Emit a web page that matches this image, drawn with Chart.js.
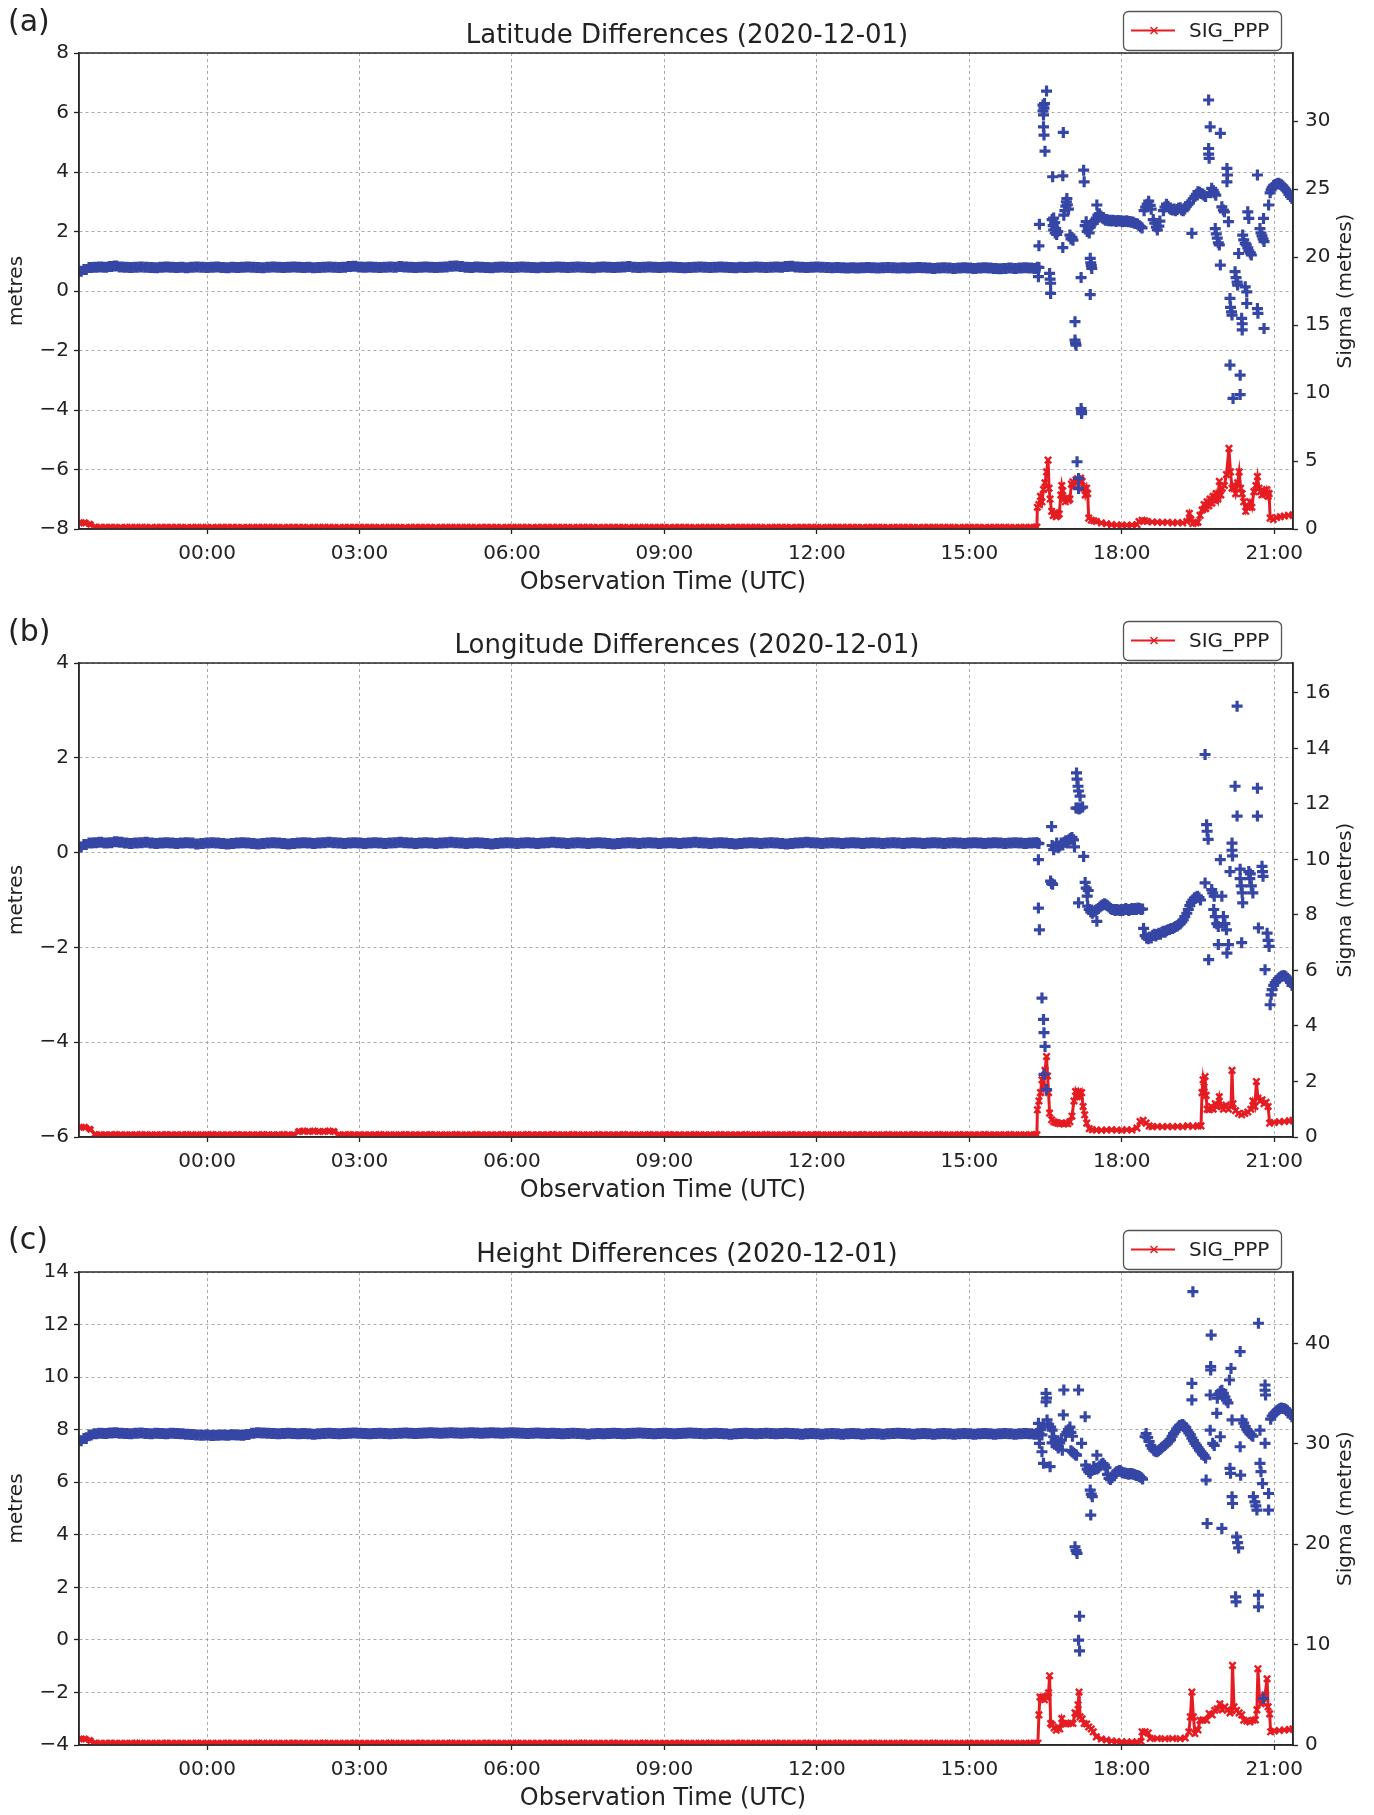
<!DOCTYPE html>
<html><head><meta charset="utf-8">
<script src="https://cdn.jsdelivr.net/npm/chart.js@4.4.1/dist/chart.umd.min.js"></script>
<style>
html,body{margin:0;padding:0;background:#fff;}
#wrap{position:relative;width:1374px;height:1815px;overflow:hidden;background:#fff;}
canvas{position:absolute;left:0;}
.tag{position:absolute;left:8px;font-family:'DejaVu Sans';font-size:30px;line-height:1;color:#222;}
</style></head>
<body><div id="wrap">
<canvas id="ca" width="1374" height="609" style="top:0px"></canvas>
<canvas id="cb" width="1374" height="609" style="top:610px"></canvas>
<canvas id="cc" width="1374" height="596" style="top:1219px"></canvas>
<div class="tag" style="top:6px">(a)</div>
<div class="tag" style="top:616px">(b)</div>
<div class="tag" style="top:1224px">(c)</div>
</div>
<script>
// ---------------- axes / ticks ----------------
const xTickHours = [0,3,6,9,12,15,18,21];
const xTickLabels = ['00:00','03:00','06:00','09:00','12:00','15:00','18:00','21:00'];
const xMin = -2.52, xMax = 21.37;
const flatStart = -2.5, flatStep = 0.1;   // regular epochs of the quiet period

const latTicks = [-8,-6,-4,-2,0,2,4,6,8];
const latSigmaTicks = [0,5,10,15,20,25,30];
const lonTicks = [-6,-4,-2,0,2,4];
const lonSigmaTicks = [0,2,4,6,8,10,12,14,16];
const hgtTicks = [-4,-2,0,2,4,6,8,10,12,14];
const hgtSigmaTicks = [0,10,20,30,40];

// ---------------- (a) latitude ----------------
const latFlat = [
0.66,0.72,0.79,0.80,0.81,0.80,0.82,0.84,0.81,0.80,0.79,0.80,0.81,0.80,0.79,0.78,0.80,0.81,0.80,
0.79,0.80,0.78,0.80,0.81,0.80,0.79,0.80,0.81,0.79,0.78,0.80,0.79,0.80,0.81,0.80,0.79,0.78,0.80,
0.81,0.80,0.79,0.80,0.81,0.80,0.79,0.80,0.78,0.79,0.80,0.81,0.80,0.79,0.80,0.82,0.83,0.81,0.80,
0.81,0.80,0.79,0.80,0.81,0.80,0.82,0.81,0.80,0.79,0.80,0.81,0.80,0.79,0.80,0.81,0.83,0.84,0.82,
0.80,0.79,0.81,0.80,0.79,0.78,0.80,0.81,0.80,0.79,0.80,0.81,0.80,0.79,0.78,0.80,0.79,0.80,0.81,
0.80,0.79,0.80,0.81,0.80,0.79,0.78,0.80,0.81,0.80,0.79,0.80,0.81,0.82,0.80,0.79,0.80,0.81,0.80,
0.79,0.80,0.81,0.80,0.79,0.78,0.79,0.80,0.81,0.80,0.79,0.80,0.81,0.80,0.79,0.78,0.80,0.79,0.80,
0.81,0.80,0.79,0.80,0.81,0.80,0.82,0.83,0.81,0.80,0.79,0.80,0.81,0.80,0.79,0.78,0.79,0.78,0.77,
0.78,0.77,0.78,0.79,0.78,0.77,0.78,0.79,0.78,0.77,0.78,0.77,0.78,0.79,0.78,0.77,0.76,0.77,0.78,
0.77,0.76,0.77,0.78,0.77,0.76,0.77,0.78,0.77,0.76,0.75,0.76,0.77,0.76,0.77,0.78,0.77,0.76];
const latSigFlat = [
0.45,0.45,0.35,0.14,0.12,0.12,0.13,0.12,0.11,0.12,0.12,0.13,0.12,0.12,0.11,0.12,0.12,0.13,0.12,
0.12,0.12,0.11,0.12,0.13,0.12,0.12,0.11,0.12,0.12,0.13,0.12,0.12,0.11,0.12,0.12,0.13,0.12,0.12,
0.12,0.12,0.11,0.12,0.13,0.12,0.12,0.11,0.12,0.12,0.13,0.12,0.12,0.11,0.12,0.12,0.13,0.12,0.12,
0.12,0.12,0.11,0.12,0.13,0.12,0.12,0.11,0.12,0.12,0.13,0.12,0.12,0.11,0.12,0.12,0.13,0.12,0.12,
0.12,0.12,0.11,0.12,0.13,0.12,0.12,0.11,0.12,0.12,0.13,0.12,0.12,0.11,0.12,0.12,0.13,0.12,0.12,
0.12,0.12,0.11,0.12,0.13,0.12,0.12,0.11,0.12,0.12,0.13,0.12,0.12,0.11,0.12,0.12,0.13,0.12,0.12,
0.12,0.12,0.11,0.12,0.13,0.12,0.12,0.11,0.12,0.12,0.13,0.12,0.12,0.11,0.12,0.12,0.13,0.12,0.12,
0.12,0.12,0.11,0.12,0.13,0.12,0.12,0.11,0.12,0.12,0.13,0.12,0.12,0.11,0.12,0.12,0.13,0.12,0.12,
0.12,0.12,0.11,0.12,0.13,0.12,0.12,0.11,0.12,0.12,0.13,0.12,0.12,0.11,0.12,0.12,0.13,0.12,0.12,
0.12,0.12,0.11,0.12,0.13,0.12,0.12,0.11,0.12,0.12,0.13,0.12,0.12,0.11,0.12,0.12,0.13,0.12];
const latScatter = [
[16.34,0.80],[16.37,0.79],[16.36,0.48],[16.37,1.52],[16.38,2.24],
[16.45,6.25],[16.45,6.05],[16.46,5.92],[16.47,6.15],[16.48,6.30],[16.52,6.72],[16.46,5.52],[16.47,5.24],[16.49,4.70],
[16.58,0.59],[16.60,0.26],[16.60,-0.08],[16.59,0.40],
[16.64,3.84],[16.84,3.87],[16.85,5.33],
[16.63,2.40],[16.65,2.20],[16.66,2.05],[16.68,2.30],[16.69,1.95],[16.70,2.10],[16.72,1.90],[16.74,2.00],[16.66,2.45],
[16.84,1.46],
[16.86,2.55],[16.88,2.70],[16.90,2.85],[16.91,3.00],[16.92,3.11],[16.93,2.90],[16.95,2.75],
[16.98,1.88],[17.00,1.75],[17.02,1.80],[17.04,1.71],
[17.08,-1.03],[17.08,-1.65],[17.09,-1.75],[17.10,-1.82],
[17.12,-5.74],[17.15,-6.30],[17.15,-6.64],
[17.20,0.45],[17.20,-3.95],[17.21,-4.05],[17.21,-4.12],
[17.25,4.06],[17.26,3.67],
[17.28,2.20],[17.30,2.33],[17.32,2.00],[17.34,2.10],[17.36,1.95],[17.38,2.15],[17.40,2.25],
[17.38,1.10],[17.39,0.95],[17.40,0.85],[17.41,0.76],[17.38,-0.12],
[17.51,2.89],
[17.44,2.27],[17.47,2.35],[17.50,2.45],[17.53,2.55],[17.56,2.60],[17.59,2.52],[17.62,2.45],[17.65,2.42],[17.68,2.38],[17.71,2.40],[17.74,2.36],[17.77,2.38],[17.80,2.35],[17.83,2.38],[17.86,2.36],[17.89,2.34],[17.92,2.37],[17.95,2.35],[17.98,2.36],[18.01,2.33],[18.04,2.35],[18.07,2.34],[18.10,2.36],[18.13,2.33],[18.16,2.34],[18.19,2.31],[18.22,2.32],[18.25,2.28],[18.28,2.27],[18.31,2.25],[18.34,2.20],[18.37,2.16],[18.40,2.12],
[18.44,2.70],[18.47,2.82],[18.50,2.92],[18.53,3.02],[18.56,2.88],[18.58,2.75],
[18.62,2.40],[18.65,2.28],[18.68,2.15],[18.70,2.05],[18.73,2.18],[18.75,2.35],
[18.82,2.70],[18.85,2.82],[18.88,2.92],[18.91,2.85],[18.94,2.78],[18.97,2.74],[19.00,2.72],[19.03,2.76],[19.06,2.70],[19.09,2.74],[19.12,2.78],[19.15,2.80],[19.18,2.72],[19.21,2.70],[19.24,2.76],[19.27,2.84],[19.30,2.90],[19.33,2.96],
[19.38,1.94],
[19.41,3.10],[19.44,3.18],[19.47,3.25],[19.50,3.34],[19.53,3.32],[19.56,3.28],[19.59,3.26],[19.62,3.22],[19.65,3.18],
[19.71,6.42],[19.74,5.52],[19.71,4.79],[19.71,4.60],[19.72,4.46],
[19.75,3.30],[19.77,3.45],[19.80,3.38],[19.82,3.30],[19.85,3.22],
[19.94,5.30],[19.97,2.83],[20.00,2.72],[20.02,2.66],
[20.07,4.12],[20.08,3.90],[20.07,3.67],
[19.84,2.10],[19.86,1.92],[19.88,1.78],[19.90,1.62],[19.92,1.55],
[19.94,0.87],[20.10,2.33],
[20.13,-0.25],[20.14,-0.55],[20.16,-0.70],[20.17,-0.81],
[20.13,-2.49],[20.19,-3.61],
[20.23,0.65],[20.25,0.45],[20.27,0.30],[20.28,0.20],
[20.30,1.26],
[20.33,-2.83],[20.33,-3.48],
[20.36,-0.92],[20.37,-1.10],[20.37,-1.31],
[20.43,0.14],[20.46,-0.03],[20.46,-0.42],
[20.38,1.88],[20.40,1.72],[20.43,1.60],[20.45,1.55],[20.48,1.45],[20.50,1.35],[20.53,1.28],[20.55,1.21],
[20.48,2.66],[20.50,2.44],
[20.67,3.90],[20.67,-0.59],[20.68,-0.75],
[20.72,2.10],[20.74,1.95],[20.76,1.85],[20.78,1.75],[20.80,1.66],
[20.79,2.44],[20.80,-1.26],[20.89,2.89],
[20.92,3.30],[20.94,3.40],[20.96,3.48],[20.99,3.55],[21.02,3.58],[21.05,3.60],[21.08,3.62],[21.11,3.60],[21.14,3.57],[21.17,3.53],[21.20,3.46],[21.23,3.40],[21.26,3.34],[21.29,3.25],[21.32,3.18],[21.35,3.11]];
const latSigma = [
[16.33,0.15],[16.34,1.60],[16.37,1.80],[16.40,2.40],[16.43,2.00],[16.46,2.90],[16.49,3.40],[16.52,4.20],[16.55,5.07],[16.57,3.00],[16.59,2.20],[16.62,1.30],[16.65,1.00],[16.68,1.20],[16.71,0.90],[16.74,1.00],[16.77,1.10],[16.80,2.50],[16.82,3.20],[16.84,2.80],[16.86,2.20],[16.89,2.00],[16.92,2.30],[16.95,2.10],[16.98,2.20],[17.01,3.30],[17.04,3.48],[17.07,3.20],[17.10,3.60],[17.13,3.70],[17.16,3.55],[17.19,3.75],[17.22,3.50],[17.25,3.00],[17.28,2.50],[17.31,3.00],[17.33,2.60],[17.35,0.80],[17.40,0.65],[17.45,0.60],[17.50,0.55],[17.60,0.45],[17.70,0.38],[17.80,0.32],[17.90,0.30],[18.00,0.29],[18.10,0.28],[18.20,0.30],[18.30,0.32],[18.34,0.55],[18.40,0.65],[18.45,0.60],[18.50,0.55],[18.60,0.52],[18.70,0.50],[18.80,0.48],[18.90,0.50],[19.00,0.45],[19.10,0.48],[19.20,0.45],[19.28,0.55],[19.33,1.15],[19.36,0.70],[19.40,0.40],[19.46,0.45],
[19.50,0.50],[19.54,1.00],[19.58,1.40],[19.62,1.80],[19.65,1.50],[19.68,2.00],[19.71,1.70],[19.74,2.20],[19.77,1.90],[19.80,2.40],[19.83,2.10],[19.86,2.60],[19.89,2.20],[19.92,3.50],[19.95,2.50],[19.98,3.00],[20.02,3.20],[20.06,4.00],[20.11,5.93],[20.14,4.20],[20.17,3.00],[20.20,3.20],[20.24,2.60],[20.28,3.40],[20.31,4.20],[20.34,3.00],[20.37,2.60],[20.40,2.00],[20.44,1.30],[20.48,1.60],[20.52,2.00],[20.56,1.60],[20.60,2.75],[20.64,3.20],[20.67,3.85],[20.70,3.00],[20.73,2.75],[20.76,2.50],[20.79,2.80],[20.82,2.60],[20.85,2.90],[20.88,2.40],[20.90,2.60],[20.92,0.80],[20.98,0.70],[21.05,0.85],[21.12,0.90],[21.20,0.95],[21.28,1.00],[21.37,1.05]];

// ---------------- (b) longitude ----------------
const lonFlat = [
0.12,0.17,0.20,0.21,0.22,0.20,0.21,0.23,0.22,0.20,0.19,0.20,0.21,0.22,0.20,0.19,0.20,0.21,0.20,
0.19,0.20,0.21,0.20,0.18,0.19,0.20,0.21,0.20,0.19,0.18,0.19,0.20,0.21,0.20,0.19,0.18,0.19,0.20,
0.21,0.20,0.19,0.18,0.19,0.20,0.21,0.20,0.19,0.20,0.21,0.22,0.21,0.20,0.19,0.20,0.21,0.20,0.19,
0.20,0.21,0.20,0.19,0.20,0.21,0.22,0.21,0.20,0.19,0.20,0.21,0.20,0.19,0.20,0.21,0.22,0.21,0.20,
0.19,0.20,0.21,0.20,0.19,0.18,0.19,0.20,0.21,0.20,0.19,0.20,0.21,0.20,0.19,0.20,0.21,0.22,0.21,
0.20,0.19,0.20,0.21,0.20,0.19,0.20,0.21,0.20,0.19,0.18,0.19,0.20,0.21,0.20,0.19,0.20,0.21,0.20,
0.19,0.20,0.21,0.20,0.19,0.20,0.21,0.22,0.21,0.20,0.19,0.20,0.21,0.20,0.19,0.18,0.19,0.20,0.21,
0.20,0.19,0.20,0.21,0.20,0.19,0.18,0.19,0.20,0.21,0.22,0.21,0.20,0.19,0.20,0.21,0.20,0.19,0.20,
0.21,0.20,0.19,0.20,0.21,0.20,0.19,0.20,0.21,0.20,0.19,0.20,0.21,0.20,0.19,0.20,0.21,0.20,0.19,
0.20,0.21,0.20,0.19,0.20,0.21,0.20,0.19,0.20,0.21,0.20,0.19,0.20,0.21,0.20,0.19,0.20,0.21];
const lonSigFlat = [
0.35,0.35,0.28,0.09,0.08,0.08,0.08,0.09,0.08,0.08,0.08,0.08,0.09,0.08,0.08,0.08,0.08,0.09,0.08,
0.08,0.08,0.09,0.08,0.08,0.08,0.08,0.09,0.08,0.08,0.08,0.08,0.09,0.08,0.08,0.08,0.08,0.09,0.08,
0.08,0.08,0.09,0.08,0.08,0.20,0.21,0.20,0.21,0.20,0.20,0.21,0.20,0.08,0.08,0.09,0.08,0.08,0.08,
0.08,0.08,0.09,0.08,0.08,0.08,0.08,0.09,0.08,0.08,0.08,0.08,0.09,0.08,0.08,0.08,0.08,0.09,0.08,
0.08,0.08,0.09,0.08,0.08,0.08,0.08,0.09,0.08,0.08,0.08,0.08,0.09,0.08,0.08,0.08,0.08,0.09,0.08,
0.08,0.08,0.09,0.08,0.08,0.08,0.08,0.09,0.08,0.08,0.08,0.08,0.09,0.08,0.08,0.08,0.08,0.09,0.08,
0.08,0.08,0.09,0.08,0.08,0.08,0.08,0.09,0.08,0.08,0.08,0.08,0.09,0.08,0.08,0.08,0.08,0.09,0.08,
0.08,0.08,0.09,0.08,0.08,0.08,0.08,0.09,0.08,0.08,0.08,0.08,0.09,0.08,0.08,0.08,0.08,0.09,0.08,
0.08,0.08,0.09,0.08,0.08,0.08,0.08,0.09,0.08,0.08,0.08,0.08,0.09,0.08,0.08,0.08,0.08,0.09,0.08,
0.08,0.08,0.09,0.08,0.08,0.08,0.08,0.09,0.08,0.08,0.08,0.08,0.09,0.08,0.08,0.08,0.08,0.09];
const lonScatter = [
[16.34,0.20],[16.37,0.19],[16.36,-0.15],[16.36,-1.17],[16.38,-1.63],
[16.43,-3.07],[16.46,-3.52],[16.47,-3.80],[16.49,-4.09],[16.47,-4.68],[16.52,-5.00],
[16.62,0.55],[16.60,-0.60],[16.62,-0.65],[16.64,-0.67],
[16.63,0.15],[16.66,0.06],[16.69,0.12],[16.72,0.20],[16.75,0.10],[16.78,0.14],[16.81,0.20],[16.84,0.16],[16.87,0.22],[16.90,0.25],[16.93,0.20],[16.96,0.27],[16.99,0.30],[17.02,0.32],[17.05,0.27],[17.07,0.12],
[17.11,1.68],[17.12,1.55],[17.14,1.40],[17.15,1.30],[17.18,1.19],[17.10,0.94],[17.13,0.94],[17.16,0.92],[17.19,0.94],[17.23,0.96],
[17.15,-1.06],[17.25,-0.08],
[17.28,-0.63],[17.30,-0.75],[17.32,-0.92],[17.34,-0.80],
[17.33,-1.13],[17.36,-1.20],[17.39,-1.25],[17.42,-1.28],[17.45,-1.25],[17.48,-1.22],[17.51,-1.20],[17.54,-1.18],[17.57,-1.15],[17.60,-1.12],[17.63,-1.10],[17.66,-1.08],[17.69,-1.10],[17.72,-1.12],[17.75,-1.15],[17.78,-1.18],[17.81,-1.20],[17.84,-1.20],[17.87,-1.22],[17.90,-1.20],[17.93,-1.21],[17.96,-1.22],[17.99,-1.20],[18.02,-1.22],[18.05,-1.20],[18.08,-1.18],[18.11,-1.20],[18.14,-1.22],[18.17,-1.20],[18.20,-1.18],[18.23,-1.20],[18.26,-1.18],[18.29,-1.20],[18.32,-1.17],[18.35,-1.18],[18.38,-1.20],[18.41,-1.19],
[17.51,-1.45],
[18.43,-1.60],[18.46,-1.75],[18.49,-1.80],[18.52,-1.82],[18.55,-1.78],[18.58,-1.80],[18.61,-1.75],[18.64,-1.72],[18.67,-1.76],[18.70,-1.73],[18.73,-1.70],[18.76,-1.72],[18.79,-1.68],[18.82,-1.66],[18.85,-1.68],[18.88,-1.65],[18.91,-1.63],[18.94,-1.62],[18.97,-1.60],[19.00,-1.60],[19.03,-1.58],[19.06,-1.56],[19.09,-1.55],[19.12,-1.52],[19.15,-1.50],[19.18,-1.46],[19.21,-1.42],[19.24,-1.35],
[19.28,-1.28],[19.31,-1.20],[19.34,-1.12],[19.37,-1.05],[19.40,-1.00],[19.43,-0.96],[19.46,-0.94],[19.49,-0.92],[19.52,-0.95],[19.55,-1.00],
[19.64,2.07],[19.64,-0.64],
[19.67,0.59],[19.68,0.45],[19.70,0.28],[19.71,-2.26],
[19.77,-0.78],[19.79,-0.85],[19.82,-0.92],
[19.81,-1.20],[19.84,-1.35],[19.87,-1.50],[19.90,-1.56],[19.90,-1.94],
[19.94,-0.15],[19.97,-0.92],
[20.00,-1.35],[20.03,-1.50],[20.06,-1.63],[20.07,-2.12],[20.10,-1.94],
[20.13,-0.40],[20.17,0.20],[20.17,0.05],[20.18,-0.07],
[20.23,1.40],[20.27,0.77],[20.27,3.09],
[20.33,-0.35],[20.33,-0.55],[20.35,-0.70],[20.37,-0.85],[20.38,-1.06],[20.36,-1.90],
[20.50,-0.40],[20.52,-0.55],[20.55,-0.70],[20.58,-0.85],[20.53,-0.45],
[20.67,1.36],[20.67,0.77],[20.69,-1.59],
[20.76,-0.29],[20.77,-0.40],[20.78,-0.50],
[20.82,-2.47],[20.86,-1.70],[20.88,-1.85],[20.90,-1.98],
[20.92,-3.21],[20.94,-3.00],[20.96,-2.89],[20.99,-2.80],[21.02,-2.74],[21.05,-2.70],[21.08,-2.66],[21.11,-2.63],[21.14,-2.61],[21.17,-2.60],[21.20,-2.60],[21.23,-2.62],[21.26,-2.65],[21.29,-2.68],[21.32,-2.74],[21.35,-2.80]];
const lonSigma = [
[16.33,0.08],[16.34,0.98],[16.37,1.30],[16.40,1.60],[16.43,2.06],[16.46,1.80],[16.49,2.40],[16.52,2.90],[16.54,2.20],[16.56,1.60],[16.58,0.86],[16.62,0.62],[16.66,0.55],[16.70,0.52],[16.74,0.50],[16.78,0.48],[16.82,0.50],[16.86,0.47],[16.90,0.50],[16.94,0.48],[16.98,0.55],[17.02,0.75],[17.06,1.30],[17.09,1.64],[17.12,1.45],[17.15,1.64],[17.18,1.46],[17.21,1.60],[17.24,1.10],[17.27,0.80],[17.31,0.50],[17.36,0.30],[17.42,0.26],[17.50,0.25],[17.60,0.24],[17.70,0.25],[17.80,0.26],[17.90,0.25],[18.00,0.24],[18.10,0.26],[18.20,0.25],[18.30,0.32],[18.36,0.56],[18.42,0.60],[18.48,0.50],[18.54,0.40],[18.60,0.37],[18.70,0.38],[18.80,0.37],[18.90,0.38],[19.00,0.37],[19.10,0.38],[19.20,0.37],[19.30,0.40],[19.40,0.38],[19.50,0.40],[19.56,0.40],[19.58,1.60],[19.60,2.06],[19.62,1.80],[19.64,2.18],[19.66,1.50],[19.68,1.00],[19.72,0.98],[19.76,1.10],[19.80,1.00],[19.84,1.20],[19.88,1.10],[19.92,1.45],[19.96,1.10],[20.00,1.00],[20.05,1.15],[20.10,1.00],[20.15,1.10],[20.17,2.40],[20.19,1.20],[20.24,0.95],[20.30,0.85],[20.36,0.80],[20.42,0.85],[20.48,0.90],[20.54,1.00],[20.58,1.30],[20.62,1.10],[20.65,2.00],[20.68,1.40],[20.72,1.30],[20.76,1.34],[20.80,1.20],[20.84,1.25],[20.88,1.10],[20.91,0.50],[21.00,0.52],[21.10,0.55],[21.20,0.56],[21.30,0.58],[21.37,0.60]];

// ---------------- (c) height ----------------
const hgtFlat = [
7.58,7.66,7.80,7.84,7.86,7.85,7.87,7.88,7.86,7.85,7.84,7.86,7.87,7.85,7.84,7.86,7.85,7.84,7.86,
7.85,7.84,7.83,7.82,7.80,7.79,7.80,7.78,7.79,7.80,7.79,7.81,7.80,7.79,7.82,7.86,7.88,7.87,7.86,
7.85,7.84,7.85,7.86,7.85,7.84,7.85,7.84,7.83,7.84,7.85,7.86,7.85,7.84,7.85,7.86,7.87,7.86,7.85,
7.84,7.85,7.86,7.85,7.84,7.85,7.86,7.87,7.86,7.85,7.86,7.87,7.88,7.87,7.86,7.87,7.88,7.87,7.86,
7.87,7.88,7.87,7.86,7.87,7.88,7.87,7.86,7.87,7.88,7.87,7.86,7.85,7.86,7.87,7.86,7.85,7.86,7.85,
7.84,7.85,7.86,7.85,7.84,7.83,7.84,7.85,7.84,7.85,7.86,7.85,7.84,7.85,7.86,7.87,7.86,7.85,7.84,
7.85,7.86,7.85,7.84,7.85,7.86,7.87,7.86,7.85,7.84,7.85,7.86,7.85,7.84,7.83,7.84,7.85,7.86,7.85,
7.84,7.85,7.86,7.85,7.84,7.85,7.86,7.85,7.84,7.83,7.84,7.85,7.84,7.83,7.84,7.85,7.84,7.83,7.84,
7.85,7.84,7.83,7.84,7.85,7.84,7.83,7.84,7.85,7.86,7.85,7.84,7.83,7.84,7.85,7.84,7.83,7.84,7.85,
7.84,7.83,7.84,7.85,7.84,7.83,7.84,7.85,7.84,7.83,7.84,7.85,7.84,7.83,7.84,7.85,7.84,7.83];
const hgtSigFlat = [
0.60,0.60,0.45,0.20,0.18,0.18,0.19,0.18,0.17,0.18,0.18,0.19,0.18,0.18,0.17,0.18,0.18,0.19,0.18,
0.18,0.18,0.17,0.18,0.19,0.18,0.18,0.17,0.18,0.18,0.19,0.18,0.18,0.17,0.18,0.18,0.19,0.18,0.18,
0.18,0.18,0.17,0.18,0.19,0.18,0.18,0.17,0.18,0.18,0.19,0.18,0.18,0.17,0.18,0.18,0.19,0.18,0.18,
0.18,0.18,0.17,0.18,0.19,0.18,0.18,0.17,0.18,0.18,0.19,0.18,0.18,0.17,0.18,0.18,0.19,0.18,0.18,
0.18,0.18,0.17,0.18,0.19,0.18,0.18,0.17,0.18,0.18,0.19,0.18,0.18,0.17,0.18,0.18,0.19,0.18,0.18,
0.18,0.18,0.17,0.18,0.19,0.18,0.18,0.17,0.18,0.18,0.19,0.18,0.18,0.17,0.18,0.18,0.19,0.18,0.18,
0.18,0.18,0.17,0.18,0.19,0.18,0.18,0.17,0.18,0.18,0.19,0.18,0.18,0.17,0.18,0.18,0.19,0.18,0.18,
0.18,0.18,0.17,0.18,0.19,0.18,0.18,0.17,0.18,0.18,0.19,0.18,0.18,0.17,0.18,0.18,0.19,0.18,0.18,
0.18,0.18,0.17,0.18,0.19,0.18,0.18,0.17,0.18,0.18,0.19,0.18,0.18,0.17,0.18,0.18,0.19,0.18,0.18,
0.18,0.18,0.17,0.18,0.19,0.18,0.18,0.17,0.18,0.18,0.19,0.18,0.18,0.17,0.18,0.18,0.19,0.18];
const hgtScatter = [
[16.34,7.86],[16.37,7.85],
[16.36,8.24],[16.40,8.00],[16.43,7.80],[16.46,8.20],[16.38,7.48],[16.43,7.16],[16.46,6.72],[16.59,6.59],
[16.51,9.38],[16.52,9.20],[16.51,9.06],
[16.53,8.37],[16.56,8.20],[16.60,8.10],[16.63,7.98],
[16.63,7.50],[16.66,7.73],[16.69,7.60],[16.72,7.40],[16.75,7.30],[16.78,7.50],[16.81,7.60],[16.83,7.22],
[16.86,9.51],[16.85,8.56],
[16.89,7.80],[16.92,7.90],[16.95,8.00],[16.98,8.10],[17.00,7.90],[17.03,7.75],
[17.00,7.20],[17.03,7.15],[17.06,7.10],[17.09,7.05],[17.11,7.03],
[17.15,9.51],
[17.08,3.54],[17.10,3.40],[17.12,3.29],
[17.17,0.90],[17.15,-0.01],[17.17,-0.42],
[17.21,7.48],[17.28,8.49],
[17.29,6.65],[17.32,6.50],[17.35,6.40],[17.38,6.34],[17.41,6.45],
[17.38,5.70],[17.40,5.55],[17.42,5.45],[17.39,4.75],
[17.51,7.03],
[17.45,6.60],[17.48,6.52],[17.51,6.50],[17.54,6.55],[17.57,6.62],[17.60,6.68],[17.63,6.72],[17.66,6.65],[17.69,6.55],
[17.72,6.30],[17.75,6.15],[17.78,6.10],[17.81,6.18],[17.84,6.28],[17.87,6.35],[17.90,6.40],[17.93,6.42],[17.96,6.45],[17.99,6.40],[18.02,6.36],[18.05,6.35],[18.08,6.34],[18.11,6.32],[18.14,6.30],[18.17,6.33],[18.20,6.32],[18.23,6.30],[18.26,6.28],[18.29,6.26],[18.32,6.25],[18.35,6.22],[18.38,6.18],[18.41,6.12],
[18.46,7.73],[18.48,7.85],[18.51,7.70],[18.54,7.55],[18.57,7.40],[18.60,7.30],
[18.63,7.22],[18.66,7.18],[18.69,7.16],[18.72,7.20],[18.75,7.25],[18.78,7.30],[18.81,7.35],[18.84,7.40],[18.87,7.45],[18.90,7.50],[18.93,7.56],[18.96,7.62],
[18.99,7.75],[19.02,7.85],[19.05,7.92],[19.08,8.02],[19.11,8.10],[19.14,8.16],[19.17,8.18],[19.20,8.20],[19.23,8.14],[19.26,8.08],
[19.29,7.96],[19.32,7.88],[19.35,7.80],[19.38,7.68],[19.41,7.58],[19.44,7.48],[19.47,7.40],[19.50,7.32],[19.53,7.22],[19.56,7.15],[19.59,7.08],[19.62,7.02],[19.65,6.92],
[19.40,13.25],[19.38,9.76],[19.38,9.13],
[19.66,6.08],[19.68,4.43],
[19.76,11.60],[19.75,10.40],[19.75,10.27],[19.74,9.32],[19.74,7.98],[19.79,7.48],[19.82,7.40],
[19.87,8.62],
[19.88,9.20],[19.91,9.35],[19.94,9.45],[19.97,9.50],[20.00,9.38],[20.03,9.25],[20.06,9.12],[20.09,9.02],
[19.94,7.73],[19.97,4.24],
[20.12,9.89],[20.15,10.33],
[20.13,6.53],[20.14,6.34],[20.17,8.37],[20.17,5.45],[20.18,5.19],
[20.26,3.92],[20.28,3.70],[20.30,3.50],[20.24,1.64],[20.25,1.45],
[20.33,10.97],[20.33,7.35],[20.34,6.27],
[20.37,8.37],[20.40,8.25],[20.43,8.12],[20.46,8.00],[20.49,7.92],[20.52,7.85],[20.55,7.80],[20.58,7.75],
[20.59,5.45],[20.62,5.25],[20.64,5.10],[20.66,4.94],
[20.69,12.05],[20.69,1.70],[20.69,1.26],
[20.72,7.98],[20.72,6.72],[20.74,6.40],[20.77,5.95],
[20.82,9.70],[20.82,9.50],[20.83,9.32],[20.82,7.48],
[20.89,5.57],[20.89,4.94],[20.79,-2.23],
[20.93,8.40],[20.96,8.52],[20.99,8.60],[21.02,8.66],[21.05,8.72],[21.08,8.76],[21.11,8.80],[21.14,8.82],[21.17,8.81],[21.20,8.80],[21.23,8.77],[21.26,8.72],[21.29,8.66],[21.32,8.58],[21.35,8.49]];
const hgtSigma = [
[16.35,0.18],[16.37,3.00],[16.39,4.78],[16.42,4.60],[16.45,4.78],[16.48,4.50],[16.51,4.78],[16.54,4.90],[16.56,5.20],[16.58,6.90],[16.60,2.14],[16.63,2.00],[16.67,1.70],[16.71,1.47],[16.75,1.80],[16.78,1.60],[16.82,2.63],[16.85,2.14],[16.90,2.10],[16.95,2.14],[17.00,2.20],[17.04,2.14],[17.08,3.20],[17.11,3.00],[17.14,4.00],[17.16,5.28],[17.18,2.80],[17.22,2.60],[17.26,2.14],[17.31,2.10],[17.35,1.80],[17.40,1.60],[17.44,1.31],[17.50,0.81],[17.60,0.60],[17.70,0.50],[17.80,0.40],[17.90,0.35],[18.00,0.31],[18.10,0.30],[18.20,0.30],[18.30,0.31],[18.38,0.35],[18.40,1.31],[18.46,1.31],[18.52,1.20],[18.56,0.65],[18.70,0.65],[18.85,0.63],[19.00,0.65],[19.15,0.63],[19.25,0.70],[19.32,1.30],[19.35,2.80],[19.38,5.28],[19.41,2.80],[19.44,1.14],[19.50,1.50],[19.54,2.47],[19.60,2.50],[19.67,2.47],[19.72,3.13],[19.78,3.00],[19.83,3.46],[19.88,3.60],[19.93,4.10],[19.98,3.50],[20.03,3.80],[20.08,3.50],[20.13,3.20],[20.16,3.40],[20.18,7.93],[20.21,3.80],[20.26,3.46],[20.31,3.20],[20.36,3.00],[20.40,2.47],[20.46,2.40],[20.52,2.30],[20.58,2.47],[20.63,2.50],[20.66,3.50],[20.68,7.60],[20.71,4.78],[20.74,4.10],[20.78,4.20],[20.82,5.00],[20.86,6.60],[20.88,3.80],[20.91,3.10],[20.93,1.31],[21.00,1.40],[21.10,1.45],[21.20,1.50],[21.30,1.55],[21.37,1.60]];

// ---------------- drawing ----------------
const F = 'DejaVu Sans';
const BLUE = '#3546a5';
const RED = '#e51c22';
const GRID = 'rgba(150,150,150,0.8)';
const INK = '#222222';

const panels = [
  {id:'ca', title:'Latitude Differences (2020-12-01)', plotH:476, yMin:-8, yMax:8, yTicks:latTicks, sMax:35, sTicks:latSigmaTicks, flat:latFlat, sigFlat:latSigFlat, scatter:latScatter, sigma:latSigma},
  {id:'cb', title:'Longitude Differences (2020-12-01)', plotH:474, yMin:-6, yMax:4, yTicks:lonTicks, sMax:17.08, sTicks:lonSigmaTicks, flat:lonFlat, sigFlat:lonSigFlat, scatter:lonScatter, sigma:lonSigma},
  {id:'cc', title:'Height Differences (2020-12-01)', plotH:473, yMin:-4, yMax:14, yTicks:hgtTicks, sMax:47.1, sTicks:hgtSigmaTicks, flat:hgtFlat, sigFlat:hgtSigFlat, scatter:hgtScatter, sigma:hgtSigma}
];

const fmt = v => (v < 0 ? '\u2212' + Math.abs(v) : String(v));

const decor = {
  id: 'decor',
  afterDraw(chart, args, o) {
    const ctx = chart.ctx, a = chart.chartArea;
    ctx.save();
    ctx.strokeStyle = '#2a2a2a'; ctx.lineWidth = 1.5;
    ctx.strokeRect(a.left, a.top, a.right - a.left, a.bottom - a.top);
    ctx.fillStyle = INK; ctx.textAlign = 'center'; ctx.textBaseline = 'middle';
    ctx.font = '24px "' + F + '"';
    ctx.fillText(o.xLabel, o.xLabelX, a.bottom + o.xLabelDy);
    ctx.save();
    ctx.translate(o.rightX, (a.top + a.bottom) / 2);
    ctx.rotate(-Math.PI / 2);
    ctx.font = '20px "' + F + '"';
    ctx.fillText(o.rightLabel, 0, 0);
    ctx.restore();
    // legend
    const ds = chart.data.datasets[1];
    const x0 = 1123, x1 = 1281, y0 = a.top - 42, y1 = a.top - 3;
    ctx.beginPath();
    if (ctx.roundRect) ctx.roundRect(x0 + 0.5, y0 + 0.5, x1 - x0, y1 - y0, 5); else ctx.rect(x0 + 0.5, y0 + 0.5, x1 - x0, y1 - y0);
    ctx.fillStyle = '#fff'; ctx.fill();
    ctx.strokeStyle = '#555'; ctx.lineWidth = 1.3; ctx.stroke();
    const ym = (y0 + y1) / 2;
    ctx.strokeStyle = ds.borderColor; ctx.lineWidth = 2;
    ctx.beginPath(); ctx.moveTo(x0 + 8, ym); ctx.lineTo(x0 + 52, ym); ctx.stroke();
    const cx = x0 + 31, r = 3.5;
    ctx.lineWidth = 1.5; ctx.beginPath();
    ctx.moveTo(cx - r, ym - r); ctx.lineTo(cx + r, ym + r);
    ctx.moveTo(cx - r, ym + r); ctx.lineTo(cx + r, ym - r); ctx.stroke();
    ctx.fillStyle = INK; ctx.textAlign = 'left'; ctx.font = '20px "' + F + '"';
    ctx.fillText(ds.label, x0 + 66, ym + 1);
    ctx.restore();
  }
};

panels.forEach(p => {
  const cv = document.getElementById(p.id);
  const H = cv.height;
  const plotTop = 53;
  const xAxisH = H - plotTop - p.plotH;
  const nFlat = p.flat.length, nSigFlat = p.sigFlat.length;
  const blue = p.flat.map((v, i) => ({x: +(flatStart + i * flatStep).toFixed(2), y: v}))
    .concat(p.scatter.map(d => ({x: d[0], y: d[1]})));
  const red = p.sigFlat.map((v, i) => ({x: +(flatStart + i * flatStep).toFixed(2), y: v}))
    .concat(p.sigma.map(d => ({x: d[0], y: d[1]})));
  new Chart(cv.getContext('2d'), {
    type: 'line',
    data: {datasets: [
      {label: 'PPP', data: blue, yAxisID: 'y', showLine: false, clip: 0,
       pointStyle: 'cross',
       pointRadius: 5.5,
       pointHoverRadius: 5.5,
       pointBorderWidth: c => (c.dataIndex < nFlat ? 5.5 : 3.2),
       borderColor: BLUE, pointBorderColor: BLUE, backgroundColor: BLUE},
      {label: 'SIG_PPP', data: red, yAxisID: 'y1', clip: 0, tension: 0,
       borderColor: RED, backgroundColor: RED, borderWidth: 3,
       pointStyle: 'crossRot',
       pointRadius: c => (c.dataIndex < nSigFlat ? 4 : 4.5),
       pointHoverRadius: 4.5,
       pointBorderWidth: c => (c.dataIndex < nSigFlat ? 3.5 : 2.4),
       pointBorderColor: RED}
    ]},
    options: {
      responsive: false, animation: false, events: [], devicePixelRatio: 1,
      layout: {padding: 0},
      plugins: {
        legend: {display: false}, tooltip: {enabled: false},
        title: {display: true, text: p.title, color: INK, font: {family: F, size: 26, weight: 'normal', lineHeight: 1.2}, padding: {top: 20.8, bottom: 1}},
        decor: {xLabel: 'Observation Time (UTC)', xLabelX: 663, xLabelDy: 54, rightLabel: 'Sigma (metres)', rightX: 1346}
      },
      scales: {
        x: {type: 'linear', min: xMin, max: xMax,
          afterBuildTicks: s => { s.ticks = xTickHours.map(v => ({value: v})); },
          afterFit: s => { s.height = xAxisH; },
          ticks: {callback: (v, i) => xTickLabels[i], font: {family: F, size: 20}, color: INK, padding: 8, maxRotation: 0, autoSkip: false},
          grid: {color: GRID, lineWidth: 1, tickColor: INK, tickLength: 5, tickWidth: 1.3, tickBorderDash: []},
          border: {display: true, color: INK, width: 1.5, dash: [3, 3]},
          title: {display: false}
        },
        y: {position: 'left', min: p.yMin, max: p.yMax,
          afterBuildTicks: s => { s.ticks = p.yTicks.map(v => ({value: v})); },
          afterFit: s => { s.width = 79; },
          ticks: {callback: v => fmt(v), font: {family: F, size: 20}, color: INK, padding: 5, autoSkip: false},
          grid: {color: GRID, lineWidth: 1, tickColor: INK, tickLength: 5, tickWidth: 1.3, tickBorderDash: []},
          border: {display: true, color: INK, width: 1.5, dash: [3, 3]},
          title: {display: true, text: 'metres', color: INK, font: {family: F, size: 20, lineHeight: 1.2}, padding: {top: 5, bottom: 0}}
        },
        y1: {position: 'right', min: 0, max: p.sMax,
          afterBuildTicks: s => { s.ticks = p.sTicks.map(v => ({value: v})); },
          afterFit: s => { s.width = 81; },
          ticks: {callback: v => fmt(v), font: {family: F, size: 20}, color: INK, padding: 7, autoSkip: false},
          grid: {drawOnChartArea: false, color: GRID, tickColor: INK, tickLength: 5, tickWidth: 1.3, tickBorderDash: []},
          border: {display: true, color: INK, width: 1.5},
          title: {display: false, text: 'Sigma (metres)'}
        }
      }
    },
    plugins: [decor]
  });
});
</script>
</body></html>
